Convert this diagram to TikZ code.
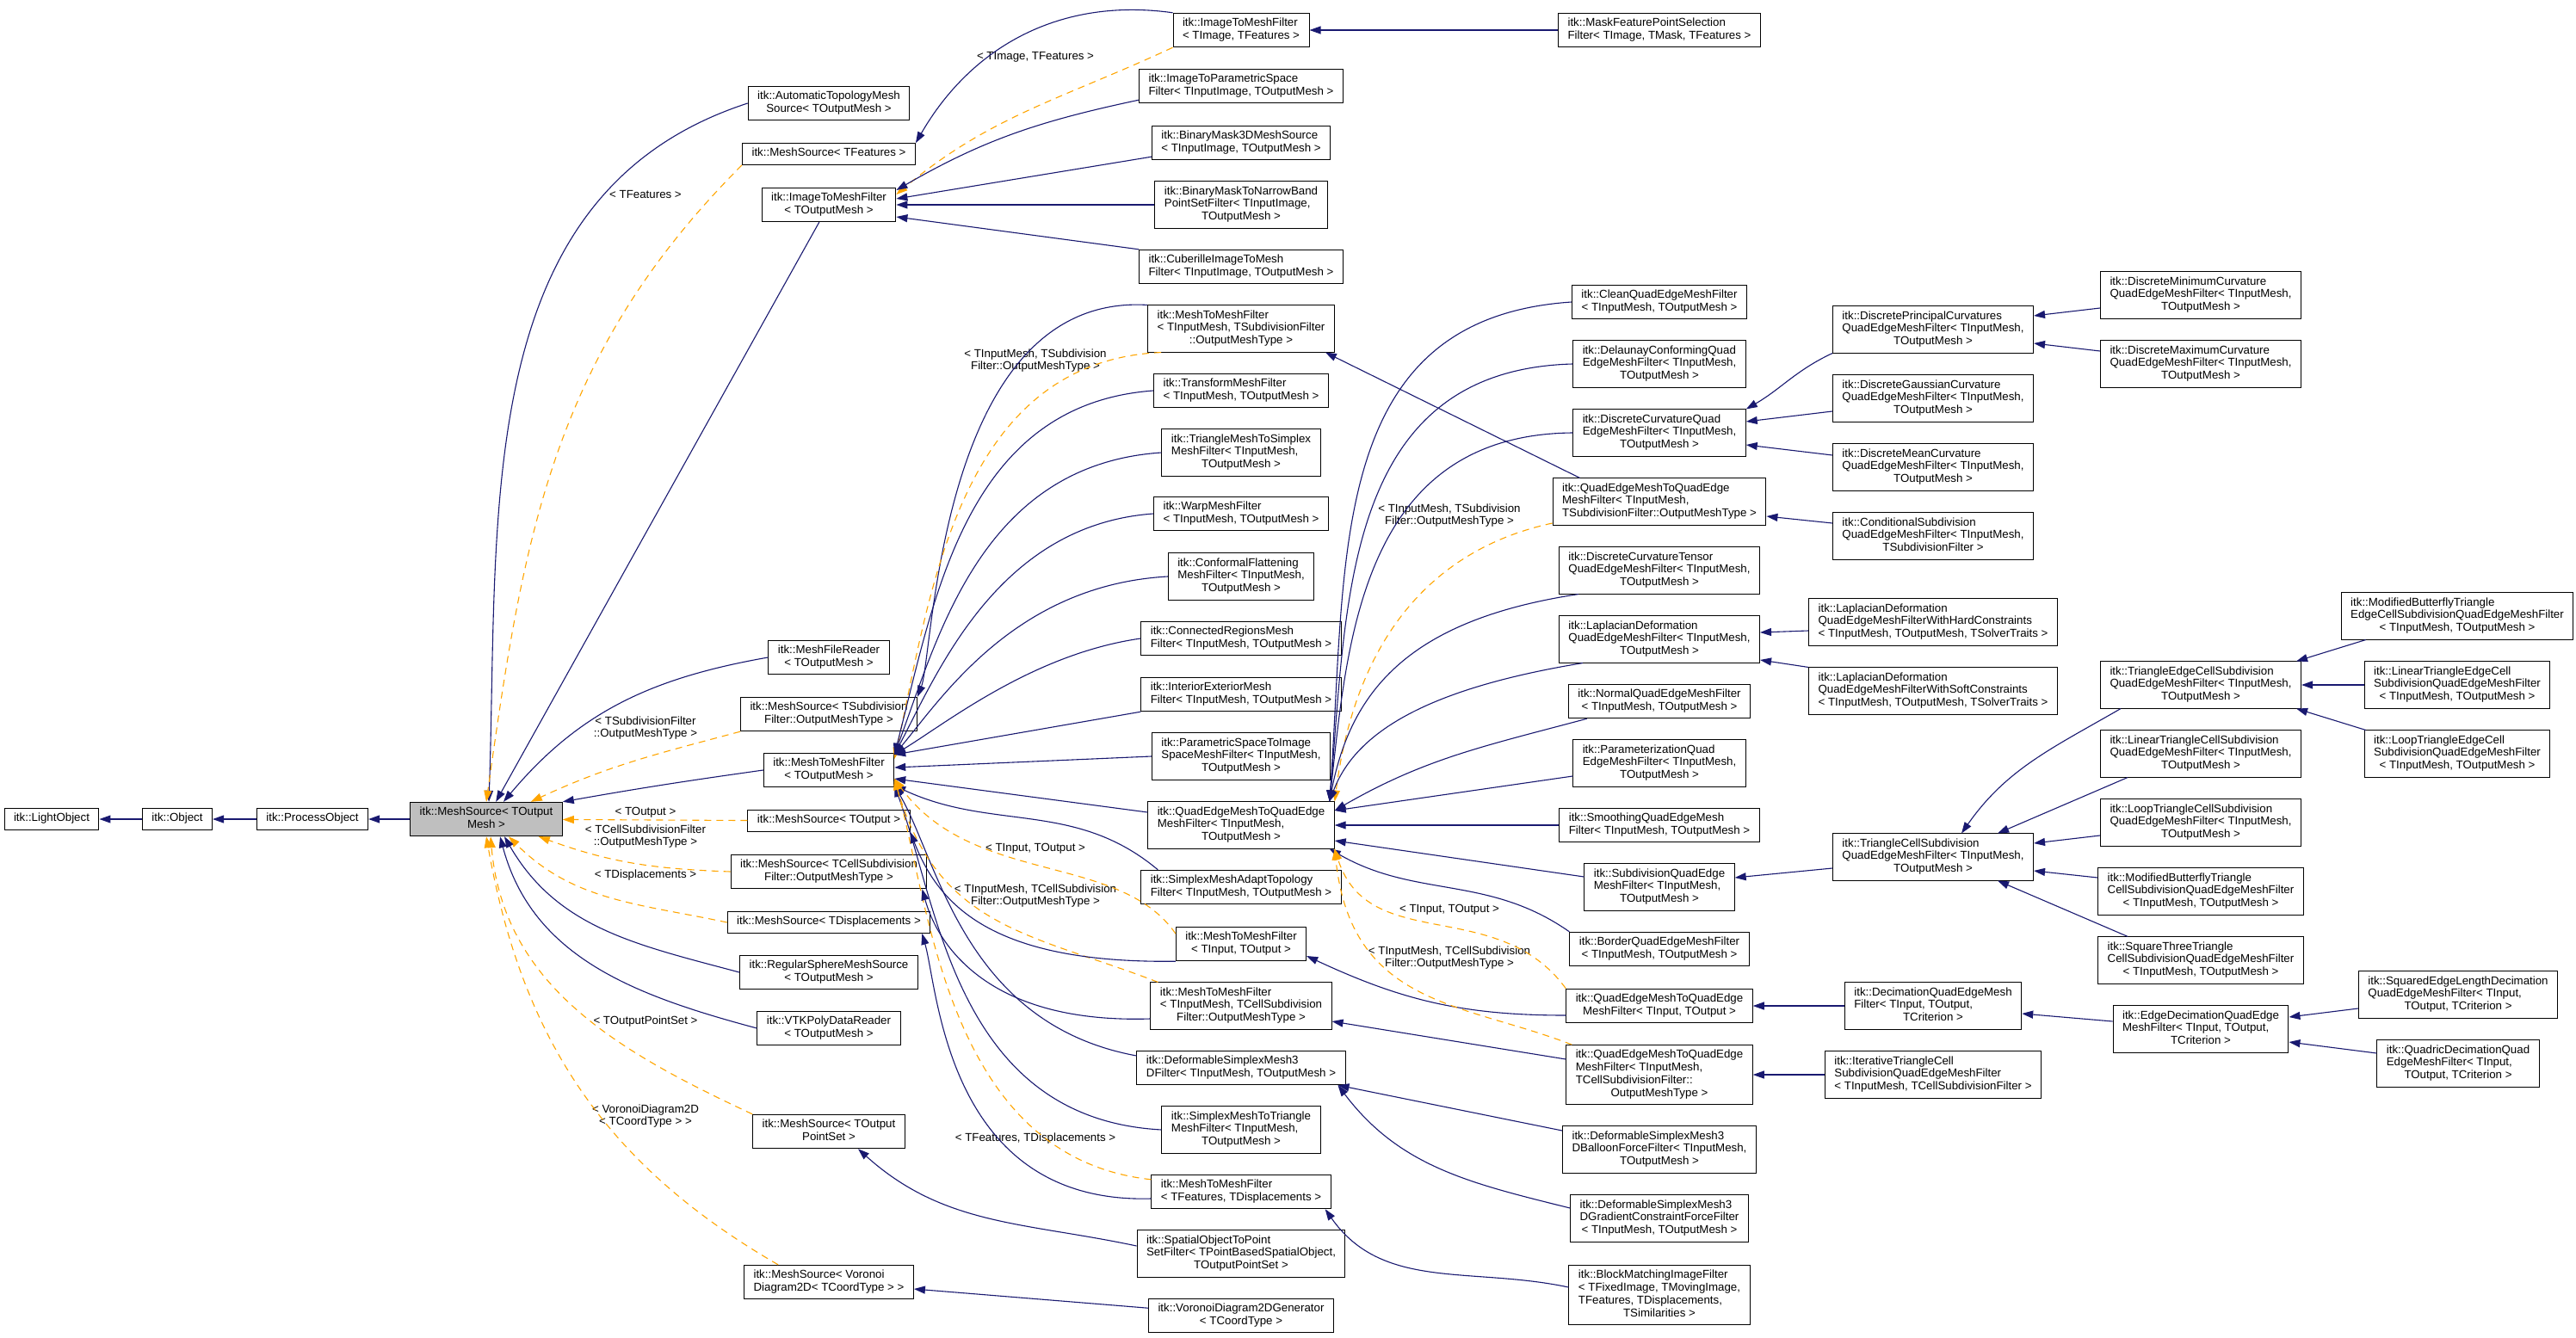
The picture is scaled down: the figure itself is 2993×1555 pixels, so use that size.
\documentclass[tikz,border=0pt]{standalone}
\usepackage{fontspec}
\setmainfont{Liberation Sans}
\usetikzlibrary{arrows.meta,calc}
\definecolor{edgeblue}{HTML}{191970}
\definecolor{tplorange}{HTML}{FFA500}
\newcommand\dxfont{\fontsize{13.3}{14.7}\selectfont}
% one-line and multi-line class labels (last line centred)
\newcommand\clsA[1]{\begin{tabular}{@{}c@{}}#1\end{tabular}}
\newcommand\clsB[2]{\begin{tabular}{@{}l@{}}#1\\\multicolumn{1}{@{}c@{}}{#2}\end{tabular}}
\tikzset{
  cls/.style={draw=black, fill=white, line width=1pt, font=\dxfont, inner xsep=11pt, inner ysep=5pt},
  basecls/.style={cls, fill=black!25},
  inh/.style={draw=edgeblue, line width=1.1pt, -{Triangle[length=13pt,width=9pt]}},
  tmpl/.style={draw=tplorange, line width=1.1pt, dash pattern=on 8pt off 6pt, -{Triangle[length=13pt,width=9pt]}},
  lbl/.style={font=\dxfont, align=center, inner sep=0pt}
}
\begin{document}
\begin{tikzpicture}[x=1pt,y=-1pt]
  \useasboundingbox (0,0) rectangle (2993,1555);
  % base chain
  \node[cls] (lo) at (60,952) {\clsA{itk::LightObject}};
  \node[cls] (obj) at (206,952) {\clsA{itk::Object}};
  \node[cls] (po) at (363,952) {\clsA{itk::ProcessObject}};
  \node[basecls] (ms) at (565,952) {\clsB{itk::MeshSource< TOutput}{Mesh >}};
  % direct children of MeshSource< TOutputMesh >
  \node[cls] (atms) at (963,120) {\clsB{itk::AutomaticTopologyMesh}{Source< TOutputMesh >}};
  \node[cls] (msfeat) at (963,179) {\clsA{itk::MeshSource< TFeatures >}};
  \node[cls] (itmf) at (963,238) {\clsB{itk::ImageToMeshFilter}{< TOutputMesh >}};
  \node[cls] (mfr) at (963,764) {\clsB{itk::MeshFileReader}{< TOutputMesh >}};
  \node[cls] (mssub) at (963,830) {\clsB{itk::MeshSource< TSubdivision}{Filter::OutputMeshType >}};
  \node[cls] (mtmf) at (963,895) {\clsB{itk::MeshToMeshFilter}{< TOutputMesh >}};
  \node[cls] (msout) at (963,954) {\clsA{itk::MeshSource< TOutput >}};
  \node[cls] (mscell) at (963,1013) {\clsB{itk::MeshSource< TCellSubdivision}{Filter::OutputMeshType >}};
  \node[cls] (msdisp) at (963,1072) {\clsA{itk::MeshSource< TDisplacements >}};
  \node[cls] (rsms) at (963,1130) {\clsB{itk::RegularSphereMeshSource}{< TOutputMesh >}};
  \node[cls] (vtk) at (963,1195) {\clsB{itk::VTKPolyDataReader}{< TOutputMesh >}};
  \node[cls] (msps) at (963,1315) {\clsB{itk::MeshSource< TOutput}{PointSet >}};
  \node[cls] (msvor) at (963,1490) {\clsB{itk::MeshSource< Voronoi}{Diagram2D< TCoordType > >}};
  % third column
  \node[cls] (itmfimg) at (1442,35) {\clsB{itk::ImageToMeshFilter}{< TImage, TFeatures >}};
  \node[cls] (ipsf) at (1442,100) {\clsB{itk::ImageToParametricSpace}{Filter< TInputImage, TOutputMesh >}};
  \node[cls] (bm3d) at (1442,166) {\clsB{itk::BinaryMask3DMeshSource}{< TInputImage, TOutputMesh >}};
  \node[cls] (bmnb) at (1442,238) {\clsB{itk::BinaryMaskToNarrowBand\\PointSetFilter< TInputImage,}{TOutputMesh >}};
  \node[cls] (cub) at (1442,310) {\clsB{itk::CuberilleImageToMesh}{Filter< TInputImage, TOutputMesh >}};
  \node[cls] (mtmfsub) at (1442,382) {\clsB{itk::MeshToMeshFilter\\< TInputMesh, TSubdivisionFilter}{::OutputMeshType >}};
  \node[cls] (tmf) at (1442,454) {\clsB{itk::TransformMeshFilter}{< TInputMesh, TOutputMesh >}};
  \node[cls] (tmsf) at (1442,526) {\clsB{itk::TriangleMeshToSimplex\\MeshFilter< TInputMesh,}{TOutputMesh >}};
  \node[cls] (wmf) at (1442,597) {\clsB{itk::WarpMeshFilter}{< TInputMesh, TOutputMesh >}};
  \node[cls] (cfmf) at (1442,670) {\clsB{itk::ConformalFlattening\\MeshFilter< TInputMesh,}{TOutputMesh >}};
  \node[cls] (crmf) at (1442,742) {\clsB{itk::ConnectedRegionsMesh}{Filter< TInputMesh, TOutputMesh >}};
  \node[cls] (iemf) at (1442,807) {\clsB{itk::InteriorExteriorMesh}{Filter< TInputMesh, TOutputMesh >}};
  \node[cls] (pstis) at (1442,879) {\clsB{itk::ParametricSpaceToImage\\SpaceMeshFilter< TInputMesh,}{TOutputMesh >}};
  \node[cls] (qe) at (1442,959) {\clsB{itk::QuadEdgeMeshToQuadEdge\\MeshFilter< TInputMesh,}{TOutputMesh >}};
  \node[cls] (smat) at (1442,1031) {\clsB{itk::SimplexMeshAdaptTopology}{Filter< TInputMesh, TOutputMesh >}};
  \node[cls] (mtmfio) at (1442,1097) {\clsB{itk::MeshToMeshFilter}{< TInput, TOutput >}};
  \node[cls] (mtmfcell) at (1442,1169) {\clsB{itk::MeshToMeshFilter\\< TInputMesh, TCellSubdivision}{Filter::OutputMeshType >}};
  \node[cls] (dsm3d) at (1442,1241) {\clsB{itk::DeformableSimplexMesh3}{DFilter< TInputMesh, TOutputMesh >}};
  \node[cls] (smttm) at (1442,1313) {\clsB{itk::SimplexMeshToTriangle\\MeshFilter< TInputMesh,}{TOutputMesh >}};
  \node[cls] (mtmffd) at (1442,1385) {\clsB{itk::MeshToMeshFilter}{< TFeatures, TDisplacements >}};
  \node[cls] (sotps) at (1442,1457) {\clsB{itk::SpatialObjectToPoint\\SetFilter< TPointBasedSpatialObject,}{TOutputPointSet >}};
  \node[cls] (vdg) at (1442,1529) {\clsB{itk::VoronoiDiagram2DGenerator}{< TCoordType >}};
  % fourth column
  \node[cls] (mfps) at (1928,35) {\clsB{itk::MaskFeaturePointSelection}{Filter< TImage, TMask, TFeatures >}};
  \node[cls] (clean) at (1928,351) {\clsB{itk::CleanQuadEdgeMeshFilter}{< TInputMesh, TOutputMesh >}};
  \node[cls] (delaunay) at (1928,423) {\clsB{itk::DelaunayConformingQuad\\EdgeMeshFilter< TInputMesh,}{TOutputMesh >}};
  \node[cls] (dcurv) at (1928,503) {\clsB{itk::DiscreteCurvatureQuad\\EdgeMeshFilter< TInputMesh,}{TOutputMesh >}};
  \node[cls] (qesub) at (1928,583) {\clsB{itk::QuadEdgeMeshToQuadEdge\\MeshFilter< TInputMesh,}{TSubdivisionFilter::OutputMeshType >}};
  \node[cls] (dctensor) at (1928,663) {\clsB{itk::DiscreteCurvatureTensor\\QuadEdgeMeshFilter< TInputMesh,}{TOutputMesh >}};
  \node[cls] (lapl) at (1928,743) {\clsB{itk::LaplacianDeformation\\QuadEdgeMeshFilter< TInputMesh,}{TOutputMesh >}};
  \node[cls] (normal) at (1928,815) {\clsB{itk::NormalQuadEdgeMeshFilter}{< TInputMesh, TOutputMesh >}};
  \node[cls] (param) at (1928,887) {\clsB{itk::ParameterizationQuad\\EdgeMeshFilter< TInputMesh,}{TOutputMesh >}};
  \node[cls] (smooth) at (1928,959) {\clsB{itk::SmoothingQuadEdgeMesh}{Filter< TInputMesh, TOutputMesh >}};
  \node[cls] (subdiv) at (1928,1031) {\clsB{itk::SubdivisionQuadEdge\\MeshFilter< TInputMesh,}{TOutputMesh >}};
  \node[cls] (border) at (1928,1103) {\clsB{itk::BorderQuadEdgeMeshFilter}{< TInputMesh, TOutputMesh >}};
  \node[cls] (qeio) at (1928,1169) {\clsB{itk::QuadEdgeMeshToQuadEdge}{MeshFilter< TInput, TOutput >}};
  \node[cls] (qecell) at (1928,1249) {\clsB{itk::QuadEdgeMeshToQuadEdge\\MeshFilter< TInputMesh,\\TCellSubdivisionFilter::}{OutputMeshType >}};
  \node[cls] (balloon) at (1928,1336) {\clsB{itk::DeformableSimplexMesh3\\DBalloonForceFilter< TInputMesh,}{TOutputMesh >}};
  \node[cls] (gradient) at (1928,1416) {\clsB{itk::DeformableSimplexMesh3\\DGradientConstraintForceFilter}{< TInputMesh, TOutputMesh >}};
  \node[cls] (bmif) at (1928,1505) {\clsB{itk::BlockMatchingImageFilter\\< TFixedImage, TMovingImage,\\TFeatures, TDisplacements,}{TSimilarities >}};
  % fifth column
  \node[cls] (dprinc) at (2246,383) {\clsB{itk::DiscretePrincipalCurvatures\\QuadEdgeMeshFilter< TInputMesh,}{TOutputMesh >}};
  \node[cls] (dgauss) at (2246,463) {\clsB{itk::DiscreteGaussianCurvature\\QuadEdgeMeshFilter< TInputMesh,}{TOutputMesh >}};
  \node[cls] (dmean) at (2246,543) {\clsB{itk::DiscreteMeanCurvature\\QuadEdgeMeshFilter< TInputMesh,}{TOutputMesh >}};
  \node[cls] (condsub) at (2246,623) {\clsB{itk::ConditionalSubdivision\\QuadEdgeMeshFilter< TInputMesh,}{TSubdivisionFilter >}};
  \node[cls] (lhard) at (2246,723) {\clsB{itk::LaplacianDeformation\\QuadEdgeMeshFilterWithHardConstraints}{< TInputMesh, TOutputMesh, TSolverTraits >}};
  \node[cls] (lsoft) at (2246,803) {\clsB{itk::LaplacianDeformation\\QuadEdgeMeshFilterWithSoftConstraints}{< TInputMesh, TOutputMesh, TSolverTraits >}};
  \node[cls] (tcs) at (2246,996) {\clsB{itk::TriangleCellSubdivision\\QuadEdgeMeshFilter< TInputMesh,}{TOutputMesh >}};
  \node[cls] (decim) at (2246,1169) {\clsB{itk::DecimationQuadEdgeMesh\\Filter< TInput, TOutput,}{TCriterion >}};
  \node[cls] (itcs) at (2246,1249) {\clsB{itk::IterativeTriangleCell\\SubdivisionQuadEdgeMeshFilter}{< TInputMesh, TCellSubdivisionFilter >}};
  % sixth column
  \node[cls] (dmin) at (2557,343) {\clsB{itk::DiscreteMinimumCurvature\\QuadEdgeMeshFilter< TInputMesh,}{TOutputMesh >}};
  \node[cls] (dmax) at (2557,423) {\clsB{itk::DiscreteMaximumCurvature\\QuadEdgeMeshFilter< TInputMesh,}{TOutputMesh >}};
  \node[cls] (tecs) at (2557,796) {\clsB{itk::TriangleEdgeCellSubdivision\\QuadEdgeMeshFilter< TInputMesh,}{TOutputMesh >}};
  \node[cls] (ltcs) at (2557,876) {\clsB{itk::LinearTriangleCellSubdivision\\QuadEdgeMeshFilter< TInputMesh,}{TOutputMesh >}};
  \node[cls] (looptcs) at (2557,956) {\clsB{itk::LoopTriangleCellSubdivision\\QuadEdgeMeshFilter< TInputMesh,}{TOutputMesh >}};
  \node[cls] (mbtcs) at (2557,1036) {\clsB{itk::ModifiedButterflyTriangle\\CellSubdivisionQuadEdgeMeshFilter}{< TInputMesh, TOutputMesh >}};
  \node[cls] (sqtcs) at (2557,1116) {\clsB{itk::SquareThreeTriangle\\CellSubdivisionQuadEdgeMeshFilter}{< TInputMesh, TOutputMesh >}};
  \node[cls] (edecim) at (2557,1196) {\clsB{itk::EdgeDecimationQuadEdge\\MeshFilter< TInput, TOutput,}{TCriterion >}};
  % last column
  \node[cls] (mbtecs) at (2855,716) {\clsB{itk::ModifiedButterflyTriangle\\EdgeCellSubdivisionQuadEdgeMeshFilter}{< TInputMesh, TOutputMesh >}};
  \node[cls] (ltecs) at (2855,796) {\clsB{itk::LinearTriangleEdgeCell\\SubdivisionQuadEdgeMeshFilter}{< TInputMesh, TOutputMesh >}};
  \node[cls] (looptecs) at (2855,876) {\clsB{itk::LoopTriangleEdgeCell\\SubdivisionQuadEdgeMeshFilter}{< TInputMesh, TOutputMesh >}};
  \node[cls] (sqedl) at (2856,1156) {\clsB{itk::SquaredEdgeLengthDecimation\\QuadEdgeMeshFilter< TInput,}{TOutput, TCriterion >}};
  \node[cls] (quadric) at (2856,1236) {\clsB{itk::QuadricDecimationQuad\\EdgeMeshFilter< TInput,}{TOutput, TCriterion >}};
  % template labels
  \node[lbl] (lfeat) at (750,226) {< TFeatures >};
  \node[lbl] (lsub) at (750,846) {< TSubdivisionFilter\\::OutputMeshType >};
  \node[lbl] (lout) at (750,944) {< TOutput >};
  \node[lbl] (lcell) at (750,972) {< TCellSubdivisionFilter\\::OutputMeshType >};
  \node[lbl] (ldisp) at (750,1017) {< TDisplacements >};
  \node[lbl] (lps) at (750,1187) {< TOutputPointSet >};
  \node[lbl] (lvor) at (750,1297) {< VoronoiDiagram2D\\< TCoordType > >};
  \node[lbl] (limg) at (1203,66) {< TImage, TFeatures >};
  \node[lbl] (lmsub) at (1203,419) {< TInputMesh, TSubdivision\\Filter::OutputMeshType >};
  \node[lbl] (lmio) at (1203,986) {< TInput, TOutput >};
  \node[lbl] (lmcell) at (1203,1041) {< TInputMesh, TCellSubdivision\\Filter::OutputMeshType >};
  \node[lbl] (lmfd) at (1203,1323) {< TFeatures, TDisplacements >};
  \node[lbl] (lqsub) at (1684,599) {< TInputMesh, TSubdivision\\Filter::OutputMeshType >};
  \node[lbl] (lqio) at (1684,1057) {< TInput, TOutput >};
  \node[lbl] (lqcell) at (1684,1113) {< TInputMesh, TCellSubdivision\\Filter::OutputMeshType >};
  % straight horizontal links
  \foreach \c/\p in {obj/lo, po/obj, ms/po, mfps/itmfimg, bmnb/itmf, itmf/ms, vdg/msvor,
                     smooth/qe, decim/qeio, itcs/qecell, ltecs/tecs}
    \draw[inh] (\c) -- (\p);
  % into MeshSource< TOutputMesh >
  \draw[inh] (atms.west) to[out=198,in=88] ($(ms.north)+(3,0)$);
  \draw[tmpl] (msfeat.south west) to[out=225,in=82] (ms.north);
  \draw[inh] (mfr.west) to[out=190,in=50] ($(ms.north)+(20,0)$);
  \draw[tmpl] (mssub.south west) to[out=195,in=25] ($(ms.north east)+(-37,0)$);
  \draw[inh] (mtmf.west) to[out=188,in=10] (ms.north east);
  \draw[tmpl] (msout) -- (ms);
  \draw[tmpl] (mscell.west) to[out=178,in=340] ($(ms.south east)+(-28,0)$);
  \draw[tmpl] (msdisp.west) to[out=168,in=315] ($(ms.south)+(26,0)$);
  \draw[inh] (rsms.west) to[out=165,in=300] ($(ms.south)+(21,0)$);
  \draw[inh] (vtk.west) to[out=165,in=285] ($(ms.south)+(16,0)$);
  \draw[tmpl] (msps.north west) to[out=155,in=275] ($(ms.south)+(5,0)$);
  \draw[tmpl] ($(msvor.north west)+(40,0)$) to[out=150,in=280] (ms.south);
  % into the ImageToMeshFilter nodes
  \draw[inh] (itmfimg.north west) to[out=172,in=60] (msfeat.north east);
  \draw[tmpl] (itmfimg.south west) to[out=205,in=40] ($(itmf.east)+(0,-12)$);
  \draw[inh] ($(ipsf.south west)+(0,-4)$) to[out=192,in=30] ($(itmf.east)+(0,-17)$);
  \draw[inh] ($(bm3d.south west)+(0,-4)$) -- ($(itmf.east)+(0,-7)$);
  \draw[inh] (cub.north west) -- ($(itmf.east)+(0,14)$);
  % into MeshToMeshFilter< TOutputMesh >
  \draw[inh] (mtmfsub.north west) .. controls (1090,340) and (1085,760) .. (mssub.north east);
  \draw[tmpl] ($(mtmfsub.south west)+(16,0)$) .. controls (1110,420) and (1080,700) .. ($(mtmf.east)+(0,-13)$);
  \draw[inh] (tmf.west) .. controls (1120,470) and (1085,700) .. ($(mtmf.east)+(0,-18)$);
  \draw[inh] (tmsf.west) .. controls (1140,540) and (1090,740) .. ($(mtmf.east)+(0,-18)$);
  \draw[inh] (wmf.west) .. controls (1160,610) and (1090,780) .. ($(mtmf.east)+(0,-18)$);
  \draw[inh] (cfmf.west) .. controls (1180,680) and (1095,810) .. ($(mtmf.east)+(0,-18)$);
  \draw[inh] (crmf.west) .. controls (1200,760) and (1100,840) .. ($(mtmf.east)+(0,-18)$);
  \draw[inh] (iemf.south west) -- ($(mtmf.east)+(0,-18)$);
  \draw[inh] (pstis.west) -- ($(mtmf.east)+(0,-3)$);
  \draw[inh] ($(qe.west)+(0,-15)$) -- ($(mtmf.east)+(0,10)$);
  \draw[inh] ($(smat.north west)+(20,0)$) to[out=140,in=335] ($(mtmf.east)+(0,18)$);
  \draw[inh] ($(dsm3d.west)+(0,-14)$) .. controls (1120,1190) and (1090,1000) .. ($(mtmf.east)+(0,18)$);
  \draw[inh] (smttm.west) .. controls (1110,1300) and (1090,1050) .. ($(mtmf.east)+(0,18)$);
  \draw[tmpl] ($(mtmfio.west)+(0,-12)$) .. controls (1300,990) and (1130,1030) .. ($(mtmf.east)+(0,10)$);
  \draw[tmpl] ($(mtmfcell.north west)+(9,0)$) .. controls (1200,1085) and (1090,1080) .. ($(mtmf.east)+(0,10)$);
  \draw[tmpl] ($(mtmffd.north west)+(0,6)$) .. controls (1100,1345) and (1080,1050) .. ($(mtmf.east)+(0,10)$);
  % into the other MeshSource instances
  \draw[inh] (mtmfio.south west) .. controls (1150,1120) and (1090,1050) .. (msout.south east);
  \draw[inh] ($(mtmfcell.west)+(0,15)$) .. controls (1150,1190) and (1090,1100) .. ($(mscell.south east)+(-6,0)$);
  \draw[inh] ($(mtmffd.west)+(0,8)$) .. controls (1100,1400) and (1090,1150) .. ($(msdisp.south east)+(-10,0)$);
  \draw[inh] ($(sotps.west)+(0,-9)$) to[out=168,in=318] ($(msps.south)+(34,0)$);
  % into the QuadEdgeMesh hub
  \draw[inh] ($(qesub.north west)+(32,0)$) -- ($(mtmfsub.south east)+(-11,0)$);
  \draw[tmpl] ($(qesub.west)+(0,25)$) .. controls (1610,650) and (1565,820) .. (qe.north east);
  \draw[inh] (clean.west) .. controls (1540,370) and (1565,650) .. ($(qe.north east)+(-6,0)$);
  \draw[inh] (delaunay.west) .. controls (1560,430) and (1565,700) .. ($(qe.north east)+(-6,0)$);
  \draw[inh] (dcurv.west) .. controls (1580,505) and (1565,750) .. ($(qe.north east)+(-6,0)$);
  \draw[inh] ($(dctensor.south west)+(23,0)$) .. controls (1640,720) and (1570,800) .. ($(qe.north east)+(-6,0)$);
  \draw[inh] ($(lapl.south west)+(28,0)$) .. controls (1660,800) and (1575,850) .. ($(qe.north east)+(-6,0)$);
  \draw[inh] ($(normal.south west)+(22,0)$) to[out=195,in=30] ($(qe.east)+(0,-17)$);
  \draw[inh] ($(param.west)+(0,15)$) -- ($(qe.east)+(0,-17)$);
  \draw[inh] ($(subdiv.west)+(0,-12)$) -- ($(qe.east)+(0,18)$);
  \draw[inh] (border.north west) to[out=145,in=330] ($(qe.south east)+(-6,0)$);
  \draw[inh] ($(qeio.west)+(0,11)$) to[out=180,in=335] ($(mtmfio.east)+(0,14)$);
  \draw[tmpl] (qeio.north west) .. controls (1740,1040) and (1590,1110) .. (qe.south east);
  \draw[inh] ($(qecell.west)+(0,-18)$) -- ($(mtmfcell.east)+(0,18)$);
  \draw[tmpl] ($(qecell.north west)+(7,0)$) .. controls (1700,1165) and (1570,1170) .. (qe.south east);
  \draw[inh] ($(balloon.west)+(0,-22)$) -- ($(dsm3d.south east)+(-9,0)$);
  \draw[inh] ($(gradient.west)+(0,-12)$) to[out=166,in=307] ($(dsm3d.south east)+(-9,0)$);
  \draw[inh] ($(bmif.west)+(0,-9)$) to[out=168,in=305] ($(mtmffd.south east)+(-7,0)$);
  % fifth column links
  \draw[inh] (dprinc.south west) to[out=205,in=30] (dcurv.north east);
  \draw[inh] ($(dgauss.west)+(0,15)$) -- ($(dcurv.east)+(0,-13)$);
  \draw[inh] ($(dmean.west)+(0,-14)$) -- ($(dcurv.east)+(0,14)$);
  \draw[inh] ($(condsub.west)+(0,-15)$) -- ($(qesub.east)+(0,17)$);
  \draw[inh] ($(lhard.west)+(0,10)$) -- ($(lapl.east)+(0,-8)$);
  \draw[inh] (lsoft.north west) -- ($(lapl.east)+(0,24)$);
  \draw[inh] ($(tcs.west)+(0,13)$) -- ($(subdiv.east)+(0,-11)$);
  % sixth column links
  \draw[inh] ($(dmin.west)+(0,15)$) -- ($(dprinc.east)+(0,-16)$);
  \draw[inh] ($(dmax.west)+(0,-15)$) -- ($(dprinc.east)+(0,16)$);
  \draw[inh] ($(tecs.south west)+(24,0)$) to[out=210,in=55] ($(tcs.north)+(33,0)$);
  \draw[inh] ($(ltcs.south west)+(32,0)$) -- ($(tcs.north east)+(-42,0)$);
  \draw[inh] ($(looptcs.west)+(0,15)$) -- ($(tcs.east)+(0,-16)$);
  \draw[inh] ($(mbtcs.west)+(0,-16)$) -- ($(tcs.east)+(0,16)$);
  \draw[inh] ($(sqtcs.north west)+(35,0)$) -- ($(tcs.south east)+(-42,0)$);
  \draw[inh] ($(edecim.west)+(0,-9)$) -- ($(decim.east)+(0,9)$);
  % last column links
  \draw[inh] ($(mbtecs.south west)+(29,0)$) -- ($(tecs.north east)+(-6,0)$);
  \draw[inh] ($(looptecs.north west)+(2,0)$) -- ($(tecs.south east)+(-6,0)$);
  \draw[inh] ($(sqedl.west)+(0,16)$) -- ($(edecim.east)+(0,-14)$);
  \draw[inh] ($(quadric.west)+(0,-12)$) -- ($(edecim.east)+(0,15)$);
\end{tikzpicture}
\end{document}
